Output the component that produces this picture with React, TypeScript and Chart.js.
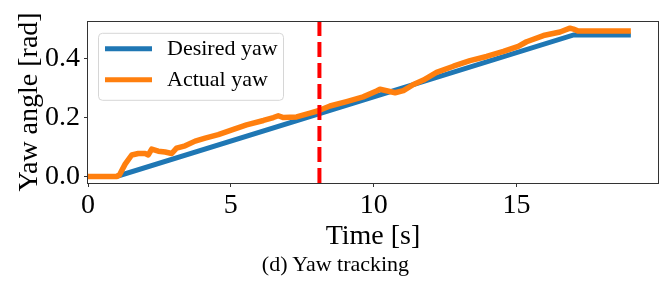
import React, { useEffect, useRef } from "react";
import { Chart, registerables } from "chart.js";

Chart.register(...registerables);

// ---- data ----
const desiredTime = [0, 1, 17, 19];
const desiredYaw = [0, 0, 0.48, 0.48];

const actualTime = [
  0, 1.0, 1.1, 1.3, 1.53, 1.76, 2.0, 2.11, 2.23, 2.46, 2.7, 2.93, 3.1, 3.4, 3.75,
  4.1, 4.56, 5.09, 5.55, 6.14, 6.49, 6.66, 6.84, 7.3, 7.77, 8.06, 8.47, 9.05,
  9.63, 10.1, 10.22, 10.45, 10.75, 11.04, 11.39, 11.74, 12.2, 12.79, 13.37,
  13.95, 14.54, 15.06, 15.35, 15.94, 16.52, 16.87, 16.99, 17.16, 19.0,
];
const actualYaw = [
  0, 0, 0.005, 0.042, 0.073, 0.078, 0.078, 0.073, 0.093, 0.086, 0.083, 0.078,
  0.096, 0.104, 0.12, 0.13, 0.142, 0.16, 0.175, 0.19, 0.2, 0.206, 0.2, 0.202,
  0.215, 0.223, 0.239, 0.254, 0.27, 0.29, 0.296, 0.291, 0.284, 0.291, 0.312,
  0.327, 0.353, 0.374, 0.393, 0.407, 0.424, 0.441, 0.457, 0.478, 0.49, 0.503,
  0.5, 0.493, 0.493,
];

const markerTime = 8.1;
const seriesLabels = ["Desired yaw", "Actual yaw"];
const xTicks = [0, 5, 10, 15];
const yTicks = [0, 0.2, 0.4];
const xRange = [0, 19.95];
const yRange = [-0.022, 0.528];
const xTitle = "Time [s]";
const yTitle = "Yaw angle [rad]";
const caption = "(d) Yaw tracking";

const FONT = "'Liberation Serif', 'Times New Roman', serif";

const framePlugin = {
  id: "frame",
  afterDraw(chart: any) {
    const { ctx, chartArea } = chart;
    ctx.save();
    ctx.strokeStyle = "#333";
    ctx.lineWidth = 1;
    ctx.strokeRect(
      Math.round(chartArea.left) - 0.5,
      Math.round(chartArea.top) + 0.5,
      Math.round(chartArea.right - chartArea.left) + 1,
      Math.round(chartArea.bottom - chartArea.top)
    );
    ctx.restore();
  },
};

const legendPlugin = {
  id: "mplLegend",
  afterDatasetsDraw(chart: any) {
    const { ctx, chartArea } = chart;
    const x0 = chartArea.left + 10;
    const y0 = chartArea.top + 12;
    const w = 185;
    const h = 67;
    ctx.save();
    ctx.beginPath();
    ctx.roundRect(x0 + 0.5, y0 + 0.5, w, h, 4);
    ctx.fillStyle = "rgba(255,255,255,0.8)";
    ctx.fill();
    ctx.strokeStyle = "#d6d6d6";
    ctx.lineWidth = 1;
    ctx.stroke();
    chart.data.datasets.slice(0, 2).forEach((ds: any, i: number) => {
      const cy = y0 + 16 + i * 31;
      ctx.beginPath();
      ctx.moveTo(x0 + 7, cy);
      ctx.lineTo(x0 + 54, cy);
      ctx.strokeStyle = ds.borderColor;
      ctx.lineWidth = 5;
      ctx.lineCap = "butt";
      ctx.stroke();
      ctx.fillStyle = "#000";
      ctx.font = `22px ${FONT}`;
      ctx.textBaseline = "middle";
      ctx.textAlign = "left";
      ctx.fillText(ds.label, x0 + 69, cy);
    });
    ctx.restore();
  },
};

export default function App() {
  const ref = useRef<HTMLCanvasElement>(null);

  useEffect(() => {
    if (!ref.current) return;
    const desired = desiredTime.map((t, i) => ({ x: t, y: desiredYaw[i] }));
    const actual = actualTime.map((t, i) => ({ x: t, y: actualYaw[i] }));
    const marker = [
      { x: markerTime, y: yRange[0] },
      { x: markerTime, y: yRange[1] },
    ];
    const chart = new Chart(ref.current, {
      type: "line",
      data: {
        datasets: [
          {
            label: seriesLabels[0],
            data: desired,
            borderColor: "#1f77b4",
            borderWidth: 5,
            pointRadius: 0,
            tension: 0,
            order: 2,
          },
          {
            label: seriesLabels[1],
            data: actual,
            borderColor: "#ff7f0e",
            borderWidth: 5.5,
            pointRadius: 0,
            tension: 0,
            borderJoinStyle: "round",
            order: 1,
          },
          {
            label: "marker",
            data: marker,
            borderColor: "#ff0000",
            borderWidth: 4,
            borderDash: [15, 6],
            pointRadius: 0,
            order: 0,
          },
        ],
      },
      options: {
        animation: false,
        responsive: false,
        layout: { padding: { left: 0, right: 13, top: 7, bottom: 36 } },
        plugins: {
          legend: { display: false },
          tooltip: { enabled: false },
        },
        scales: {
          x: {
            type: "linear",
            min: xRange[0],
            max: xRange[1],
            afterBuildTicks: (s: any) => {
              s.ticks = xTicks.map((v) => ({ value: v }));
            },
            afterFit: (s: any) => {
              s.height = 70;
            },
            ticks: {
              color: "#000",
              font: { family: FONT, size: 28 },
              padding: 2,
              maxRotation: 0,
              callback: (v: any) => String(v),
            },
            grid: {
              drawOnChartArea: false,
              drawTicks: true,
              tickLength: 4,
              color: "#333",
            },
            border: { display: false },
            title: {
              display: true,
              text: xTitle,
              color: "#000",
              font: { family: FONT, size: 28 },
              padding: { top: 0, bottom: 0 },
            },
          },
          y: {
            type: "linear",
            min: yRange[0],
            max: yRange[1],
            afterBuildTicks: (s: any) => {
              s.ticks = yTicks.map((v) => ({ value: v }));
            },
            afterFit: (s: any) => {
              s.width = 88;
            },
            ticks: {
              color: "#000",
              font: { family: FONT, size: 28 },
              padding: 4,
              callback: (v: any) => Number(v).toFixed(1),
            },
            grid: {
              drawOnChartArea: false,
              drawTicks: true,
              tickLength: 4,
              color: "#333",
            },
            border: { display: false },
            title: {
              display: true,
              text: yTitle,
              color: "#000",
              font: { family: FONT, size: 28 },
              padding: { top: 13, bottom: 0 },
            },
          },
        },
      },
      plugins: [legendPlugin, framePlugin],
    });
    return () => chart.destroy();
  }, []);

  return (
    <div
      style={{
        position: "absolute",
        left: 0,
        top: 0,
        width: 671,
        height: 289,
        background: "#fff",
      }}
    >
      <canvas ref={ref} width={671} height={289} />
      <div
        style={{
          position: "absolute",
          left: 0,
          top: 251,
          width: 671,
          textAlign: "center",
          fontFamily: FONT,
          fontSize: 22,
          lineHeight: "26px",
          color: "#000",
        }}
      >
        {caption}
      </div>
    </div>
  );
}
